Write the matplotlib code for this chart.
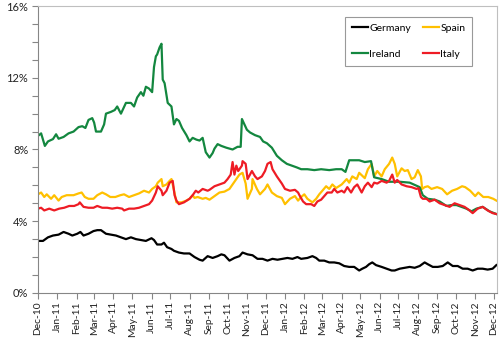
import pandas as pd
import matplotlib
matplotlib.use("Agg")
import matplotlib.pyplot as plt
import matplotlib.dates as mdates
from matplotlib.ticker import MultipleLocator, FuncFormatter

plt.rcParams['font.family'] = ['Lato', 'DejaVu Sans']

# 10-year government bond yields (%)
germany_dates = [
    "2010-12-01", "2010-12-09", "2010-12-17", "2010-12-25", "2011-01-03", "2011-01-11", "2011-01-19",
    "2011-01-25", "2011-02-02", "2011-02-07", "2011-02-12", "2011-02-20", "2011-02-28", "2011-03-06",
    "2011-03-12", "2011-03-20", "2011-03-28", "2011-04-05", "2011-04-13", "2011-04-21", "2011-04-29",
    "2011-05-07", "2011-05-15", "2011-05-23", "2011-06-01", "2011-06-05", "2011-06-10", "2011-06-17",
    "2011-06-21", "2011-06-26", "2011-07-03", "2011-07-07", "2011-07-15", "2011-07-23", "2011-08-01",
    "2011-08-09", "2011-08-17", "2011-08-22", "2011-08-30", "2011-09-07", "2011-09-15", "2011-09-21",
    "2011-09-26", "2011-10-04", "2011-10-12", "2011-10-20", "2011-10-25", "2011-11-02", "2011-11-10",
    "2011-11-18", "2011-11-26", "2011-12-04", "2011-12-12", "2011-12-20", "2011-12-28", "2012-01-05",
    "2012-01-13", "2012-01-21", "2012-01-27", "2012-02-06", "2012-02-14", "2012-02-20", "2012-02-25",
    "2012-03-04", "2012-03-12", "2012-03-20", "2012-03-28", "2012-04-05", "2012-04-13", "2012-04-21",
    "2012-04-29", "2012-05-04", "2012-05-10", "2012-05-15", "2012-05-20", "2012-05-26", "2012-06-04",
    "2012-06-12", "2012-06-20", "2012-06-25", "2012-07-03", "2012-07-11", "2012-07-19", "2012-07-27",
    "2012-08-04", "2012-08-12", "2012-08-17", "2012-08-25", "2012-09-02", "2012-09-10", "2012-09-18",
    "2012-09-26", "2012-10-04", "2012-10-12", "2012-10-20", "2012-10-28", "2012-11-05", "2012-11-13",
    "2012-11-21", "2012-11-29", "2012-12-05",
]
germany = [
    2.9, 2.9, 3.1, 3.2, 3.25, 3.4, 3.3, 3.2, 3.3, 3.4, 3.2, 3.3, 3.45, 3.5,
    3.5, 3.3, 3.25, 3.2, 3.1, 3.0, 3.1, 3.0, 2.95, 2.9, 3.05, 2.95, 2.7, 2.7,
    2.8, 2.55, 2.45, 2.35, 2.25, 2.2, 2.2, 2.0, 1.85, 1.8, 2.05, 1.95, 2.05, 2.15,
    2.1, 1.8, 1.95, 2.05, 2.25, 2.15, 2.1, 1.9, 1.9, 1.8, 1.9, 1.85, 1.9, 1.95,
    1.9, 2.0, 1.9, 1.95, 2.05, 1.95, 1.8, 1.8, 1.7, 1.7, 1.65, 1.5, 1.45, 1.45,
    1.25, 1.35, 1.45, 1.6, 1.7, 1.55, 1.45, 1.35, 1.25, 1.25, 1.35, 1.4, 1.45, 1.4,
    1.5, 1.7, 1.6, 1.45, 1.45, 1.5, 1.7, 1.5, 1.5, 1.35, 1.35, 1.25, 1.35, 1.35,
    1.3, 1.35, 1.55,
]

ireland_dates = [
    "2010-12-01", "2010-12-06", "2010-12-12", "2010-12-17", "2010-12-25", "2010-12-30", "2011-01-03",
    "2011-01-11", "2011-01-19", "2011-01-27", "2011-02-04", "2011-02-10", "2011-02-15", "2011-02-20",
    "2011-02-26", "2011-03-01", "2011-03-04", "2011-03-12", "2011-03-17", "2011-03-20", "2011-03-28",
    "2011-04-03", "2011-04-07", "2011-04-13", "2011-04-21", "2011-04-29", "2011-05-04", "2011-05-09",
    "2011-05-15", "2011-05-19", "2011-05-23", "2011-05-28", "2011-06-02", "2011-06-05", "2011-06-08",
    "2011-06-10", "2011-06-14", "2011-06-17", "2011-06-19", "2011-06-22", "2011-06-27", "2011-07-03",
    "2011-07-07", "2011-07-11", "2011-07-15", "2011-07-20", "2011-07-27", "2011-08-01", "2011-08-06",
    "2011-08-12", "2011-08-17", "2011-08-22", "2011-08-27", "2011-09-02", "2011-09-07", "2011-09-10",
    "2011-09-15", "2011-09-21", "2011-09-29", "2011-10-09", "2011-10-17", "2011-10-22", "2011-10-24",
    "2011-10-28", "2011-11-01", "2011-11-06", "2011-11-14", "2011-11-22", "2011-11-27", "2011-12-03",
    "2011-12-11", "2011-12-19", "2011-12-27", "2012-01-04", "2012-01-12", "2012-01-20", "2012-01-27",
    "2012-02-06", "2012-02-17", "2012-02-28", "2012-03-12", "2012-03-23", "2012-04-01", "2012-04-07",
    "2012-04-13", "2012-04-29", "2012-05-08", "2012-05-18", "2012-05-23", "2012-06-04", "2012-06-16",
    "2012-07-03", "2012-07-19", "2012-08-04", "2012-08-09", "2012-08-17", "2012-08-28", "2012-09-05",
    "2012-09-16", "2012-09-24", "2012-10-02", "2012-10-10", "2012-10-18", "2012-10-26", "2012-11-03",
    "2012-11-13", "2012-11-24", "2012-12-05",
]
ireland = [
    8.76, 8.9, 8.2, 8.45, 8.58, 8.85, 8.6, 8.7, 8.9, 9.0, 9.25, 9.3, 9.2, 9.65,
    9.75, 9.5, 9.0, 9.0, 9.4, 10.0, 10.1, 10.2, 10.4, 10.0, 10.6, 10.6, 10.4, 10.9,
    11.2, 11.0, 11.5, 11.4, 11.2, 12.6, 13.2, 13.3, 13.7, 13.9, 11.9, 11.7, 10.6, 10.4,
    9.4, 9.7, 9.6, 9.2, 8.8, 8.45, 8.65, 8.55, 8.5, 8.65, 7.85, 7.55, 7.8, 8.05,
    8.3, 8.2, 8.1, 8.0, 8.15, 8.15, 9.7, 9.4, 9.1, 8.95, 8.8, 8.7, 8.45, 8.35,
    8.1, 7.65, 7.4, 7.2, 7.1, 7.0, 6.9, 6.9, 6.85, 6.9, 6.85, 6.9, 6.9, 6.75,
    7.4, 7.4, 7.3, 7.35, 6.45, 6.35, 6.2, 6.2, 6.15, 5.9, 5.45, 5.25, 5.2, 5.1,
    4.85, 4.9, 4.9, 4.8, 4.7, 4.55, 4.7, 4.8, 4.55, 4.4,
]

spain_dates = [
    "2010-12-01", "2010-12-06", "2010-12-11", "2010-12-15", "2010-12-22", "2010-12-27", "2011-01-03",
    "2011-01-08", "2011-01-16", "2011-01-27", "2011-02-04", "2011-02-09", "2011-02-14", "2011-02-20",
    "2011-02-28", "2011-03-06", "2011-03-14", "2011-03-20", "2011-03-27", "2011-04-04", "2011-04-12",
    "2011-04-18", "2011-04-26", "2011-05-04", "2011-05-12", "2011-05-20", "2011-05-28", "2011-06-02",
    "2011-06-08", "2011-06-11", "2011-06-17", "2011-06-19", "2011-06-25", "2011-06-30", "2011-07-03",
    "2011-07-06", "2011-07-11", "2011-07-19", "2011-07-27", "2011-08-01", "2011-08-06", "2011-08-09",
    "2011-08-14", "2011-08-22", "2011-08-27", "2011-09-02", "2011-09-10", "2011-09-18", "2011-09-26",
    "2011-10-04", "2011-10-09", "2011-10-15", "2011-10-20", "2011-10-25", "2011-10-30", "2011-11-02",
    "2011-11-09", "2011-11-10", "2011-11-17", "2011-11-22", "2011-11-30", "2011-12-04", "2011-12-11",
    "2011-12-19", "2011-12-27", "2012-01-01", "2012-01-09", "2012-01-17", "2012-01-22", "2012-01-27",
    "2012-02-01", "2012-02-06", "2012-02-14", "2012-02-20", "2012-02-25", "2012-03-01", "2012-03-07",
    "2012-03-12", "2012-03-17", "2012-03-23", "2012-04-01", "2012-04-09", "2012-04-13", "2012-04-18",
    "2012-04-25", "2012-04-29", "2012-05-08", "2012-05-13", "2012-05-19", "2012-05-23", "2012-05-28",
    "2012-06-04", "2012-06-09", "2012-06-16", "2012-06-21", "2012-06-25", "2012-06-29", "2012-07-06",
    "2012-07-11", "2012-07-16", "2012-07-22", "2012-07-27", "2012-08-01", "2012-08-06", "2012-08-08",
    "2012-08-12", "2012-08-17", "2012-08-23", "2012-09-01", "2012-09-09", "2012-09-17", "2012-09-25",
    "2012-10-03", "2012-10-11", "2012-10-16", "2012-10-24", "2012-11-01", "2012-11-06", "2012-11-14",
    "2012-11-22", "2012-11-30", "2012-12-05",
]
spain = [
    5.5, 5.6, 5.35, 5.5, 5.25, 5.45, 5.15, 5.35, 5.45, 5.45, 5.55, 5.6, 5.35, 5.25,
    5.25, 5.45, 5.6, 5.5, 5.35, 5.35, 5.45, 5.5, 5.35, 5.45, 5.55, 5.7, 5.6, 5.8,
    5.95, 6.15, 6.35, 5.95, 6.05, 6.25, 6.35, 5.9, 5.05, 5.05, 5.15, 5.25, 5.45, 5.3,
    5.35, 5.25, 5.3, 5.2, 5.4, 5.6, 5.65, 5.8, 6.05, 6.35, 6.6, 6.7, 6.1, 5.25,
    5.8, 6.35, 5.8, 5.5, 5.8, 6.05, 5.6, 5.4, 5.3, 4.95, 5.25, 5.4, 5.15, 5.35,
    5.5, 5.25, 5.05, 5.25, 5.5, 5.7, 5.95, 5.8, 6.05, 5.85, 6.05, 6.35, 6.15, 6.5,
    6.35, 6.7, 6.4, 6.9, 7.2, 6.5, 6.8, 6.5, 6.9, 7.2, 7.55, 7.2, 6.5, 6.95,
    6.8, 6.85, 6.35, 6.45, 6.85, 6.5, 5.8, 5.9, 5.95, 5.8, 5.9, 5.8, 5.5, 5.7,
    5.8, 5.95, 5.9, 5.7, 5.4, 5.6, 5.35, 5.35, 5.25, 5.15,
]

italy_dates = [
    "2010-12-01", "2010-12-06", "2010-12-11", "2010-12-19", "2010-12-27", "2011-01-04", "2011-01-12",
    "2011-01-20", "2011-01-28", "2011-02-04", "2011-02-06", "2011-02-12", "2011-02-20", "2011-02-28",
    "2011-03-06", "2011-03-14", "2011-03-22", "2011-03-30", "2011-04-07", "2011-04-15", "2011-04-18",
    "2011-04-26", "2011-05-04", "2011-05-12", "2011-05-20", "2011-05-28", "2011-06-02", "2011-06-08",
    "2011-06-11", "2011-06-17", "2011-06-19", "2011-06-25", "2011-06-30", "2011-07-05", "2011-07-08",
    "2011-07-11", "2011-07-15", "2011-07-23", "2011-08-01", "2011-08-06", "2011-08-11", "2011-08-15",
    "2011-08-22", "2011-08-30", "2011-09-02", "2011-09-10", "2011-09-18", "2011-09-26", "2011-10-01",
    "2011-10-06", "2011-10-09", "2011-10-12", "2011-10-15", "2011-10-18", "2011-10-24", "2011-10-25",
    "2011-10-30", "2011-11-02", "2011-11-09", "2011-11-14", "2011-11-18", "2011-11-25", "2011-11-30",
    "2011-12-04", "2011-12-09", "2011-12-12", "2011-12-19", "2011-12-27", "2012-01-01", "2012-01-09",
    "2012-01-17", "2012-01-22", "2012-01-25", "2012-01-30", "2012-02-04", "2012-02-12", "2012-02-17",
    "2012-02-22", "2012-02-28", "2012-03-04", "2012-03-09", "2012-03-16", "2012-03-20", "2012-03-25",
    "2012-04-01", "2012-04-05", "2012-04-10", "2012-04-16", "2012-04-21", "2012-04-26", "2012-05-03",
    "2012-05-08", "2012-05-13", "2012-05-19", "2012-05-23", "2012-05-28", "2012-06-04", "2012-06-12",
    "2012-06-16", "2012-06-21", "2012-06-25", "2012-06-29", "2012-07-06", "2012-07-14", "2012-07-22",
    "2012-07-30", "2012-08-02", "2012-08-06", "2012-08-09", "2012-08-15", "2012-08-20", "2012-08-28",
    "2012-09-05", "2012-09-13", "2012-09-21", "2012-09-29", "2012-10-07", "2012-10-15", "2012-10-23",
    "2012-10-28", "2012-11-05", "2012-11-13", "2012-11-21", "2012-11-29", "2012-12-05",
]
italy = [
    4.7, 4.75, 4.6, 4.7, 4.6, 4.7, 4.75, 4.85, 4.85, 4.95, 5.05, 4.8, 4.75, 4.75,
    4.85, 4.75, 4.75, 4.7, 4.75, 4.7, 4.6, 4.7, 4.7, 4.75, 4.85, 4.95, 5.15, 5.6,
    5.95, 5.7, 5.45, 5.7, 6.15, 6.25, 5.45, 5.15, 4.95, 5.05, 5.25, 5.45, 5.7, 5.6,
    5.8, 5.7, 5.75, 5.95, 6.05, 6.15, 6.35, 6.6, 7.3, 6.6, 7.1, 6.8, 7.1, 7.35,
    7.2, 6.35, 6.8, 6.5, 6.35, 6.5, 6.8, 7.2, 7.3, 6.9, 6.5, 6.1, 5.8, 5.7,
    5.75, 5.6, 5.4, 5.1, 4.95, 4.95, 4.85, 5.1, 5.2, 5.4, 5.6, 5.6, 5.8, 5.6,
    5.7, 5.6, 5.9, 5.6, 5.9, 6.05, 5.6, 5.95, 6.15, 5.9, 6.15, 6.1, 6.25, 6.15,
    6.25, 6.6, 6.15, 6.3, 6.05, 5.95, 5.9, 5.8, 5.85, 5.35, 5.25, 5.25, 5.1, 5.2,
    5.0, 4.9, 4.8, 5.0, 4.9, 4.8, 4.6, 4.45, 4.7, 4.8, 4.6, 4.45, 4.4,
]

fig = plt.figure(figsize=(5.0, 3.39), dpi=100)
ax = fig.add_axes([0.076, 0.136, 0.918, 0.846])

grey_axis = '#868686'
l_ger, = ax.plot(pd.to_datetime(germany_dates), germany, color='black', lw=1.6, label='Germany')
l_spa, = ax.plot(pd.to_datetime(spain_dates), spain, color='#FFC000', lw=1.6, label='Spain')
l_ire, = ax.plot(pd.to_datetime(ireland_dates), ireland, color='#13873F', lw=1.6, label='Ireland')
l_ita, = ax.plot(pd.to_datetime(italy_dates), italy, color='#EE1C25', lw=1.6, label='Italy')

ax.set_xlim(pd.Timestamp('2010-12-01'), pd.Timestamp('2012-12-06'))
ax.set_ylim(0, 16)

ax.xaxis.set_major_locator(mdates.MonthLocator())
ax.xaxis.set_major_formatter(mdates.DateFormatter('%b-%y'))
ax.yaxis.set_major_locator(MultipleLocator(4))
ax.yaxis.set_minor_locator(MultipleLocator(1))
ax.yaxis.set_major_formatter(FuncFormatter(lambda v, p: f"{v:.0f}%"))

ax.tick_params(axis='x', which='major', direction='out', length=4, width=0.8,
               color=grey_axis, labelsize=7.4, labelrotation=90, pad=2, labelcolor='#222222')
ax.tick_params(axis='y', which='both', direction='out', length=4, width=0.8,
               color=grey_axis, labelsize=8, pad=3, labelcolor='#222222')

for side in ['left', 'bottom']:
    ax.spines[side].set_color(grey_axis)
    ax.spines[side].set_linewidth(0.8)
for side in ['top', 'right']:
    ax.spines[side].set_color('#BFBFBF')
    ax.spines[side].set_linewidth(0.8)

# legend: Germany / Spain on top row, Ireland / Italy below
leg = ax.legend(handles=[l_ger, l_ire, l_spa, l_ita], ncol=2, loc='upper right',
                bbox_to_anchor=(0.9455, 0.962), borderaxespad=0, fontsize=7.5,
                frameon=True, fancybox=False, handlelength=1.55, handletextpad=0.15,
                columnspacing=1.1, labelspacing=1.6, borderpad=0.65)
leg.get_frame().set_edgecolor('#808080')
leg.get_frame().set_linewidth(0.8)

fig.savefig('out.png', dpi=100)
